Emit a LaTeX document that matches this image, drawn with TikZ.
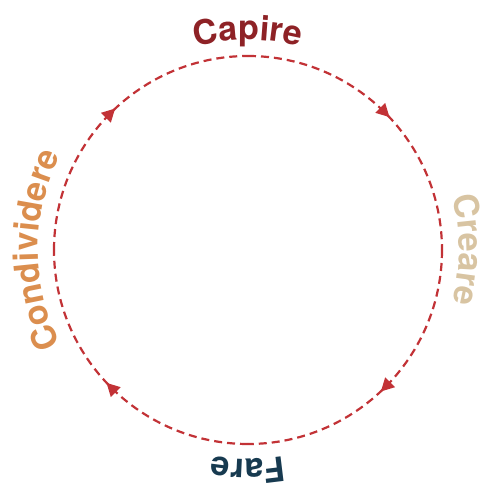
\documentclass[tikz,border=0pt]{standalone}
\usepackage{fontspec}
\setmainfont{TeX Gyre Heros}
\usetikzlibrary{decorations.text,decorations.markings,arrows.meta}
\definecolor{ringc}{HTML}{C23236}
\definecolor{capc}{HTML}{8E2226}
\definecolor{crec}{HTML}{D8C4A2}
\definecolor{farc}{HTML}{173A50}
\definecolor{conc}{HTML}{DB8E4E}
\newcommand\lblfont{\fontsize{34}{36}\selectfont\bfseries}
\tikzset{
  ringarc/.style={draw=ringc, line width=2.2pt, dash pattern=on 8pt off 5pt,
    postaction={decorate, decoration={markings,
      mark=at position 0.5 with {\fill[ringc] (6pt,0) -- (-7pt,7pt) -- (-7pt,-7pt) -- cycle;}}}},
  arclabel/.style 2 args={decorate, decoration={text effects along path, text={#1}, text align=center,
    text effects/.cd, character widths={font=\lblfont, inner xsep=0pt, inner ysep=0pt},
    characters={anchor=base, inner xsep=0pt, inner ysep=0pt, transform shape, text=#2, font=\lblfont}}},
}
\begin{document}
\begin{tikzpicture}[x=1pt,y=1pt]
\useasboundingbox (-248,-235) rectangle (233,250);
\coordinate (c) at (0,0);
\coordinate (n) at (90:194);
\coordinate (e) at (0:194);
\coordinate (s) at (-90:194);
\coordinate (w) at (180:194);
\path[ringarc] (n) arc[start angle=90, end angle=0, radius=194];
\path[ringarc] (e) arc[start angle=0, end angle=-90, radius=194];
\path[ringarc] (s) arc[start angle=-90, end angle=-180, radius=194];
\path[ringarc] (w) arc[start angle=180, end angle=90, radius=194];
\path[arclabel={Capire}{capc}] (135:210) arc[start angle=135, end angle=45, radius=210];
\path[arclabel={Creare}{crec}] (45:211) arc[start angle=45, end angle=-45, radius=211];
\path[arclabel={Fare}{farc}] (-45:209) arc[start angle=-45, end angle=-135, radius=209];
\path[arclabel={Condividere}{conc}] (225:210) arc[start angle=225, end angle=135, radius=210];
\end{tikzpicture}
\end{document}
